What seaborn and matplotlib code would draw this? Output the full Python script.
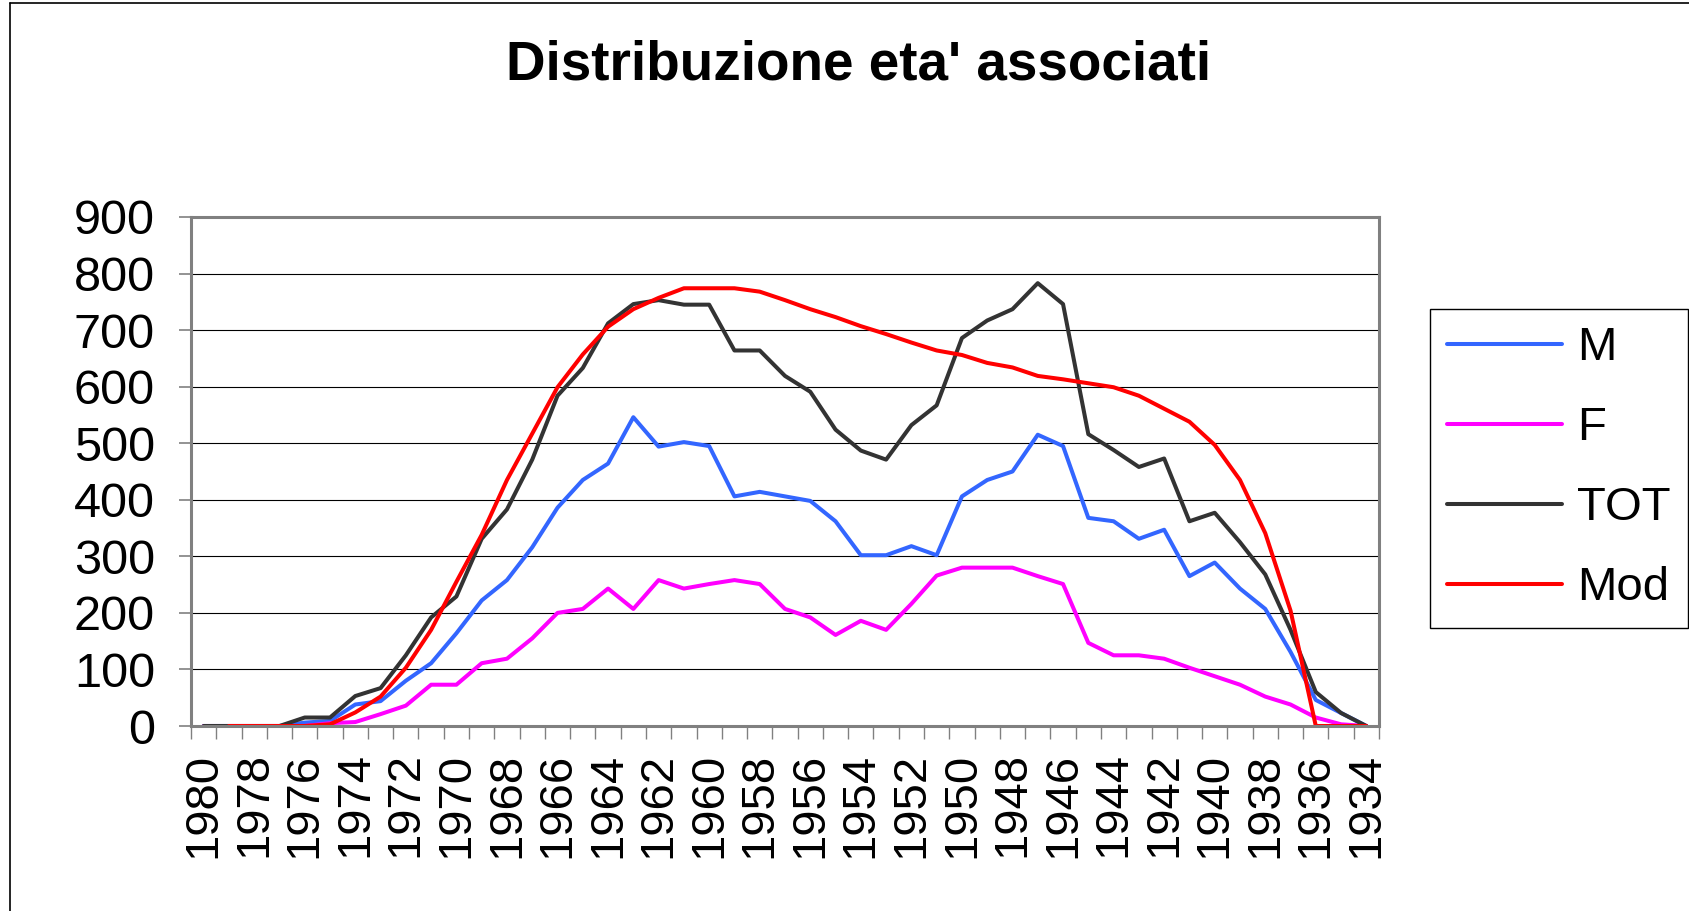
import numpy as np
import matplotlib
matplotlib.use("Agg")
import matplotlib.pyplot as plt
import seaborn as sns
from matplotlib.lines import Line2D
from matplotlib.ticker import FixedLocator

# ---- data ----
years = list(range(1980, 1933, -1))
M = [0, 0, 0, 0, 6, 9, 38, 44, 80, 111, 164, 222, 258, 316, 386, 435, 464, 546, 494, 502,
     495, 406, 414, 406, 398, 362, 302, 302, 318, 302, 406, 435, 450, 515, 495, 368, 362,
     331, 347, 265, 289, 243, 207, 131, 46, 23, 0]
F = [0, 0, 0, 0, 0, 5, 7, 21, 36, 73, 73, 111, 119, 155, 200, 207, 243, 207, 258, 243,
     251, 258, 251, 207, 192, 161, 186, 170, 216, 266, 280, 280, 280, 265, 251, 147, 125,
     125, 119, 103, 88, 73, 52, 38, 15, 3, 0]
TOT = [0, 0, 0, 0, 15, 15, 53, 67, 125, 192, 229, 331, 383, 471, 584, 633, 712, 746, 753,
       745, 745, 664, 664, 619, 591, 524, 487, 471, 532, 567, 686, 717, 737, 783, 746, 516,
       488, 458, 473, 362, 377, 325, 268, 170, 60, 23, 0]
MOD = [np.nan, 0, 0, 0, 0, 3, 24, 52, 103, 170, 255, 338, 435, 517, 599, 657, 706, 737,
       757, 774, 774, 774, 768, 753, 737, 723, 707, 693, 678, 664, 656, 642, 634, 619, 613,
       606, 599, 584, 561, 538, 497, 435, 341, 204, 0, 0, 0]
names = ["M", "F", "TOT", "Mod"]
colors = ["#3366FF", "#FF00FF", "#333333", "#FF0000"]
title = "Distribuzione eta' associati"

sns.set_theme(style="white")
plt.rcParams["font.family"] = ["Liberation Sans", "DejaVu Sans"]
plt.rcParams["text.color"] = "black"
plt.rcParams["xtick.color"] = "black"
plt.rcParams["ytick.color"] = "black"
plt.rcParams["axes.labelcolor"] = "black"

W, H = 1690, 911
fig = plt.figure(figsize=(W / 100, H / 100), dpi=100)
ax = fig.add_axes([191 / W, 1 - 726 / H, (1379 - 191) / W, (726 - 217) / H])
ax.set_axisbelow(True)

yrs = np.array(years)
for name, vals, col in zip(names, [M, F, TOT, MOD], colors):
    v = np.array(vals, dtype=float)
    m = ~np.isnan(v)
    sns.lineplot(x=yrs[m], y=v[m], ax=ax, color=col, linewidth=2.9, label=name)

ax.set_xlim(1980.5, 1933.5)
ax.set_ylim(0, 900)
ax.set_yticks(range(0, 1000, 100))
ax.set_xticks(years[::2])
ax.set_xticklabels([str(y) for y in years[::2]])
ax.xaxis.set_minor_locator(FixedLocator(np.arange(1933.5, 1981.0, 1.0)))
ax.set_xlabel("")
ax.set_ylabel("")

ax.tick_params(axis="x", which="major", length=0, pad=19, labelsize=34,
               labelrotation=90, bottom=True, labelcolor="black")
ax.tick_params(axis="x", which="minor", length=9, width=1, color="#808080",
               direction="out", bottom=True)
ax.tick_params(axis="y", which="major", length=9, width=1.2, color="#808080",
               direction="out", pad=17, labelsize=35, left=True, labelcolor="black")

ax.yaxis.grid(True, color="black", linewidth=0.8)
ax.xaxis.grid(False)
for s in ax.spines.values():
    s.set_visible(True)
    s.set_color("#808080")
    s.set_linewidth(2.2)

leg = ax.legend(loc="upper left", bbox_to_anchor=(1430 / W, 1 - 309 / H),
                bbox_transform=fig.transFigure, borderaxespad=0, fontsize=34,
                labelspacing=0.76, handlelength=2.43, handletextpad=0.32,
                borderpad=0.37, fancybox=False, frameon=True)
leg.get_frame().set_edgecolor("black")
leg.get_frame().set_linewidth(1.0)
leg.get_frame().set_alpha(1)
for t in leg.get_texts():
    t.set_color("black")

fig.text(0.508, 1 - 65 / H, title, ha="center", va="center", fontsize=39.5,
         fontweight="bold", color="black")

# outer chart border
fig.add_artist(Line2D([10 / W, 10 / W], [0, 1 - 3 / H], transform=fig.transFigure,
                      color="black", linewidth=1.2))
fig.add_artist(Line2D([10 / W, 1], [1 - 3 / H, 1 - 3 / H], transform=fig.transFigure,
                      color="black", linewidth=1.2))

fig.savefig("out.png", dpi=100)
